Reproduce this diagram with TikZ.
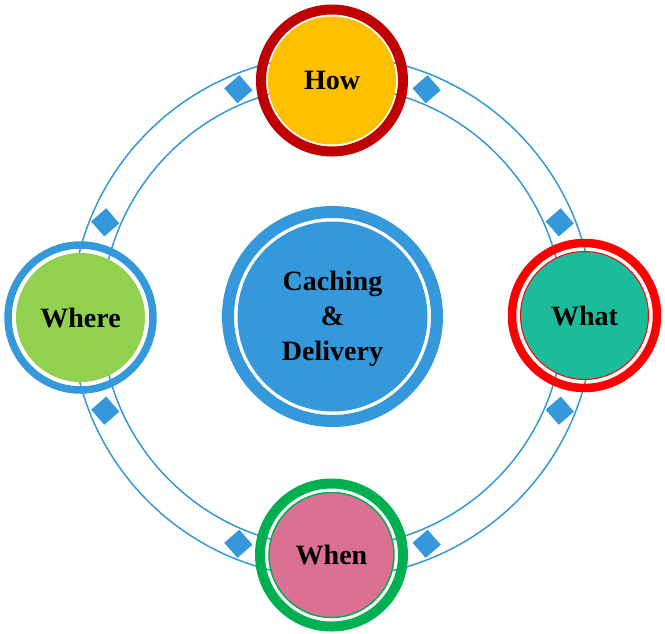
\documentclass[tikz,border=0pt]{standalone}
\usepackage{fontspec}
\setmainfont{Liberation Serif}
\usetikzlibrary{calc}
\begin{document}
\begin{tikzpicture}[x=1pt,y=-1pt,
  lbl/.style={font=\fontsize{28}{35}\selectfont\bfseries, text=black, align=center},
  core/.style={circle, inner sep=0pt, minimum size=#1},
  ringline/.style={draw=cblue, line width=1.5pt},
  gem/.style={rectangle, fill=cblue, inner sep=0pt, minimum size=20pt, rotate=41}]
\definecolor{cblue}{HTML}{3598DB}
\definecolor{howfill}{HTML}{FFC000}
\definecolor{howring}{HTML}{C00000}
\definecolor{whatring}{HTML}{FF0000}
\definecolor{whatfill}{HTML}{1ABC9C}
\definecolor{whenring}{HTML}{00B050}
\definecolor{whenfill}{HTML}{DB7093}
\definecolor{wherefill}{HTML}{92D050}
\useasboundingbox (0,0) rectangle (665,633);
\coordinate (c) at (332.5,316.5);
% orbit rings
\draw[ringline] (c) circle (261pt);
\draw[ringline] (c) circle (231pt);
% diamonds
\foreach \a [count=\i] in {22.5,67.5,112.5,157.5,202.5,247.5,292.5,337.5}
  \node[gem] (g\i) at ($(c)+(\a:246pt)$) {};
% centre
\draw[draw=cblue, line width=12pt] (c) circle (104.5pt);
\node[core=190pt, fill=cblue] (cd) at (c) {};
\node[lbl] (cdt) at ($(cd.center)+(0,2)$) {Caching\\\&\\Delivery};
% How
\node[core=128pt, fill=howfill, lbl] (how) at (332,80.5) {How};
\draw[draw=howring, line width=10pt] (how.center) circle (71pt);
% What
\node[core=128pt, fill=whatfill, draw=whatring, line width=1pt, lbl] (what) at (584.5,315.5) {What};
\draw[draw=whatring, line width=8.5pt] (what.center) circle (72.5pt);
% When
\node[core=125pt, fill=whenfill, draw=whenring, line width=1.5pt, lbl] (when) at (331.5,555) {When};
\draw[draw=whenring, line width=10pt] (when.center) circle (71.5pt);
% Where
\node[core=129pt, fill=wherefill, lbl] (where) at (80.5,317.5) {Where};
\draw[draw=cblue, line width=7.5pt] (where.center) circle (72.5pt);
\end{tikzpicture}
\end{document}
